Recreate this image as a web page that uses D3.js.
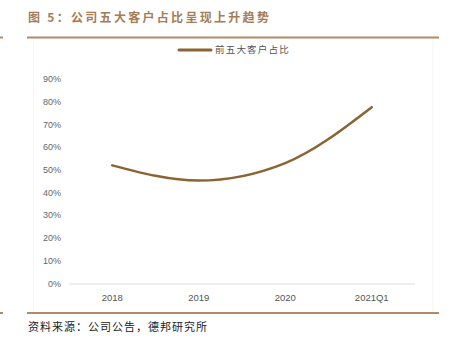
<!DOCTYPE html>
<html>
<head>
<meta charset="utf-8">
<script src="https://cdn.jsdelivr.net/npm/d3@7/dist/d3.min.js"></script>
<style>
  html, body { margin: 0; padding: 0; background: #fff; }
  svg { display: block; }
</style>
</head>
<body>
<svg id="chart" width="452" height="342"></svg>
<script>
// Share of revenue from the top five customers
const categories = ["2018", "2019", "2020", "2021Q1"];
const topFiveShare = [52, 45.3, 53, 77.6];
const yTicks = [0, 10, 20, 30, 40, 50, 60, 70, 80, 90];
const titleText = "图 5：公司五大客户占比呈现上升趋势";
const legendLabel = "前五大客户占比";
const sourceText = "资料来源：公司公告，德邦研究所";

const svg = d3.select("#chart");
const cjk = "'Noto Sans CJK SC', 'Noto Sans', sans-serif";
const ruleColor = "#b38a64";
const lineColor = "#8a6433";

// Title and header rule
svg.append("text")
  .attr("x", 28).attr("y", 22)
  .attr("font-family", cjk).attr("font-size", 12).attr("font-weight", "bold")
  .attr("letter-spacing", 2.3)
  .attr("fill", "#a57c55")
  .text(titleText);

svg.append("rect").attr("x", 27).attr("y", 36.5).attr("width", 412).attr("height", 2).attr("fill", ruleColor);
svg.append("rect").attr("x", 0).attr("y", 36.5).attr("width", 3).attr("height", 2).attr("fill", ruleColor);

// Faint frame around the plot area
svg.append("line").attr("x1", 33.5).attr("x2", 33.5).attr("y1", 39).attr("y2", 312)
  .attr("stroke", "#f7f7f7").attr("stroke-width", 1);
svg.append("line").attr("x1", 432.5).attr("x2", 432.5).attr("y1", 39).attr("y2", 312)
  .attr("stroke", "#f7f7f7").attr("stroke-width", 1);

// Footer rule and source
svg.append("rect").attr("x", 27).attr("y", 312).attr("width", 412).attr("height", 2).attr("fill", ruleColor);
svg.append("rect").attr("x", 0).attr("y", 312).attr("width", 3).attr("height", 2).attr("fill", ruleColor);

svg.append("text")
  .attr("x", 28).attr("y", 331)
  .attr("font-family", cjk).attr("font-size", 11)
  .attr("letter-spacing", 1)
  .attr("fill", "#222")
  .text(sourceText);

// Scales
const x = d3.scaleBand().domain(categories).range([69, 415]);
const y = d3.scaleLinear().domain([0, 90]).range([283.5, 79]);

// Y axis labels
svg.append("g").selectAll("text").data(yTicks).join("text")
  .attr("x", 61).attr("y", d => y(d))
  .attr("dy", "0.35em")
  .attr("text-anchor", "end")
  .attr("font-family", "'Liberation Sans', Arial, sans-serif")
  .attr("font-size", 9)
  .attr("fill", "#666")
  .text(d => d + "%");

// X axis baseline
svg.append("line")
  .attr("x1", x.range()[0]).attr("x2", x.range()[1])
  .attr("y1", y(0) + 0.5).attr("y2", y(0) + 0.5)
  .attr("stroke", "#dcdcdc").attr("stroke-width", 1);

// X axis labels
svg.append("g").selectAll("text").data(categories).join("text")
  .attr("x", d => x(d) + x.bandwidth() / 2)
  .attr("y", 301)
  .attr("text-anchor", "middle")
  .attr("font-family", "'Liberation Sans', Arial, sans-serif")
  .attr("font-size", 9.5)
  .attr("fill", "#555")
  .text(d => d);

// Line
const line = d3.line()
  .x((d, i) => x(categories[i]) + x.bandwidth() / 2)
  .y(d => y(d))
  .curve(d3.curveMonotoneX);

svg.append("path")
  .datum(topFiveShare)
  .attr("d", line)
  .attr("fill", "none")
  .attr("stroke", lineColor)
  .attr("stroke-width", 2.5)
  .attr("stroke-linecap", "round");

// Legend
svg.append("line")
  .attr("x1", 179).attr("x2", 211).attr("y1", 50).attr("y2", 50)
  .attr("stroke", lineColor).attr("stroke-width", 3).attr("stroke-linecap", "round");
svg.append("text")
  .attr("x", 215).attr("y", 50).attr("dy", "0.35em")
  .attr("font-family", cjk).attr("font-size", 9.5)
  .attr("letter-spacing", 1.2)
  .attr("fill", "#555")
  .text(legendLabel);
</script>
</body>
</html>
